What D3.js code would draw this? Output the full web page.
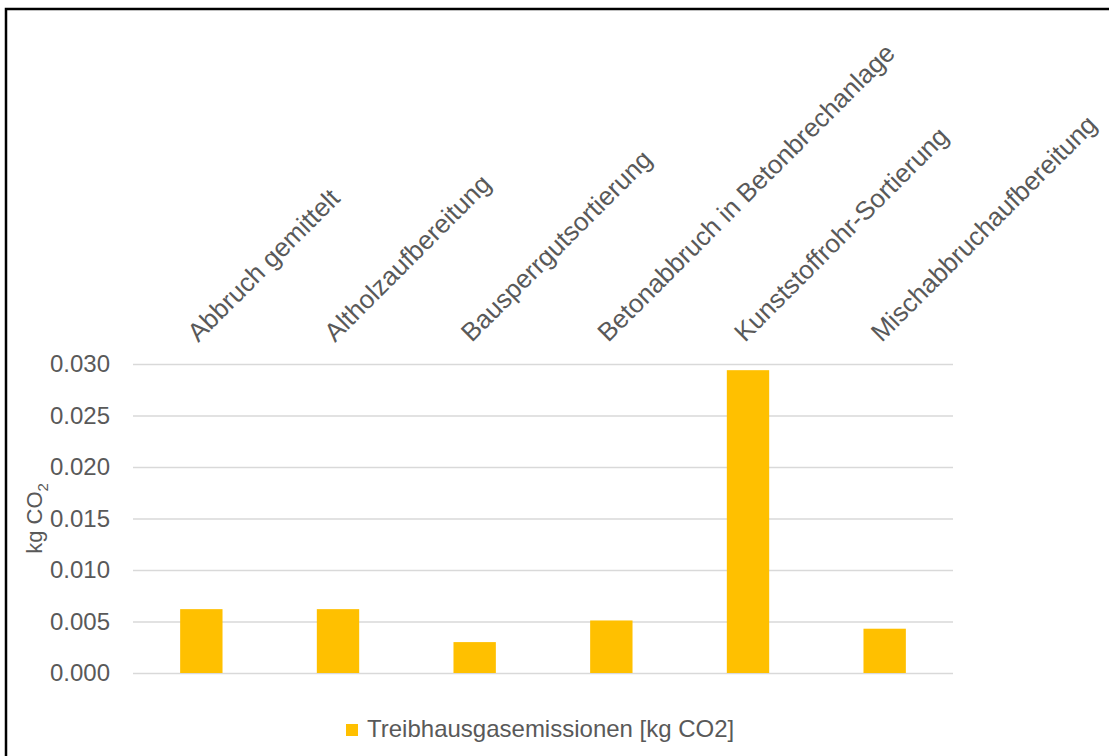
<!DOCTYPE html>
<html>
<head>
<meta charset="utf-8">
<script src="https://cdn.jsdelivr.net/npm/d3@7"></script>
<style>
  body { margin: 0; background: #fff; }
  svg { display: block; font-family: "Liberation Sans", Arial, sans-serif; }
  .tick text { fill: #595959; }
</style>
</head>
<body>
<svg></svg>
<script>
const w = 1109;
const h = 756;

// data
const categories = [
    'Abbruch gemittelt',
    'Altholzaufbereitung',
    'Bausperrgutsortierung',
    'Betonabbruch in Betonbrechanlage',
    'Kunststoffrohr-Sortierung',
    'Mischabbruchaufbereitung'
];
const emissions = [0.0062, 0.0062, 0.0030, 0.0051, 0.0294, 0.0043];
const yTicks = [0, 0.005, 0.010, 0.015, 0.020, 0.025, 0.030];
const seriesName = 'Treibhausgasemissionen [kg CO2]';

// plot area
const plotLeft = 133, plotRight = 953, plotTop = 364, plotBottom = 673;

const svg = d3.select('svg')
    .attr('width', w)
    .attr('height', h);

// frame (cut off on right/bottom in the original)
svg.append('path')
    .attr('d', `M6,${h + 5} L6,9 L${w + 5},9`)
    .attr('fill', 'none')
    .attr('stroke', '#000')
    .attr('stroke-width', 2.5);

const xScale = d3.scaleBand()
    .domain(categories)
    .range([plotLeft, plotRight])
    .paddingInner(0.69)
    .paddingOuter(0.345);

const yScale = d3.scaleLinear()
    .domain([0, 0.03])
    .range([plotBottom, plotTop]);

// gridlines
const grid = svg.append('g')
    .attr('transform', 'translate(' + plotLeft + ',0)')
    .call(d3.axisLeft(yScale).tickValues(yTicks).tickSize(-(plotRight - plotLeft)).tickFormat(''));
grid.select('.domain').remove();
grid.selectAll('line').attr('stroke', '#d9d9d9').attr('stroke-width', 1.5);

// y labels
const yAxis = svg.append('g')
    .attr('transform', 'translate(' + plotLeft + ',0)')
    .call(d3.axisLeft(yScale).tickValues(yTicks).tickSize(0).tickPadding(23).tickFormat(d3.format('.3f')));
yAxis.select('.domain').remove();
yAxis.selectAll('text').style('font-size', '24px').attr('font-family', null);

// y title
const yTitle = svg.append('text')
    .attr('transform', 'translate(42,' + ((plotTop + plotBottom) / 2) + ') rotate(-90)')
    .attr('text-anchor', 'middle')
    .attr('fill', '#595959')
    .style('font-size', '22px');
yTitle.append('tspan').text('kg CO');
yTitle.append('tspan').attr('dy', 6).style('font-size', '15px').text('2');

// category labels, rotated, above the plot
const xAxis = svg.append('g')
    .attr('transform', 'translate(0,343)')
    .call(d3.axisTop(xScale).tickSize(0).tickPadding(0));
xAxis.select('.domain').remove();
xAxis.selectAll('text')
    .attr('x', 0)
    .attr('y', 0)
    .attr('dy', 0)
    .attr('text-anchor', 'start')
    .attr('transform', 'translate(-3,0) rotate(-45)')
    .attr('font-family', null)
    .style('font-size', '26px');

// bars
svg.selectAll('rect.bar')
    .data(emissions)
    .enter()
    .append('rect')
    .attr('class', 'bar')
    .attr('x', (d, i) => xScale(categories[i]))
    .attr('width', xScale.bandwidth())
    .attr('y', d => yScale(d))
    .attr('height', d => plotBottom - yScale(d))
    .attr('fill', '#ffc000');

// legend
const legend = svg.append('g').attr('transform', 'translate(346,724)');
legend.append('rect')
    .attr('width', 12)
    .attr('height', 12)
    .attr('fill', '#ffc000');
legend.append('text')
    .attr('x', 21)
    .attr('y', 13)
    .attr('fill', '#595959')
    .style('font-size', '24px')
    .text(seriesName);
</script>
</body>
</html>
